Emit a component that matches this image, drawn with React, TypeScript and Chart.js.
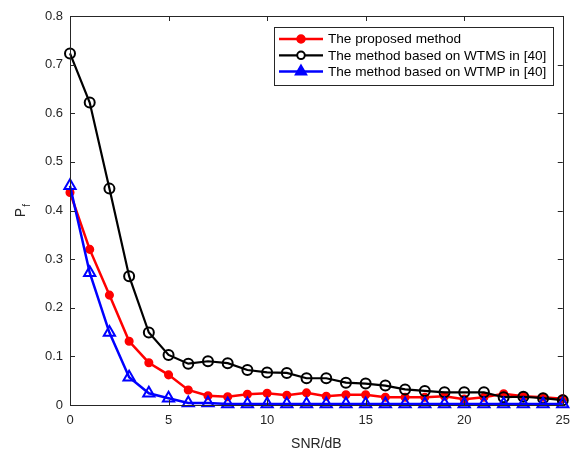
import React, { useEffect, useRef } from "react";
import { Chart, registerables } from "chart.js";

Chart.register(...registerables);

const snr = [0, 1, 2, 3, 4, 5, 6, 7, 8, 9, 10, 11, 12, 13, 14, 15, 16, 17, 18, 19, 20, 21, 22, 23, 24, 25];
const proposed = [0.437, 0.320, 0.226, 0.131, 0.087, 0.062, 0.031, 0.019, 0.017, 0.022, 0.024, 0.020, 0.025, 0.018, 0.021, 0.021, 0.016, 0.016, 0.016, 0.018, 0.012, 0.016, 0.023, 0.018, 0.016, 0.013];
const wtms = [0.723, 0.622, 0.445, 0.265, 0.149, 0.103, 0.085, 0.090, 0.086, 0.072, 0.067, 0.066, 0.055, 0.055, 0.046, 0.044, 0.040, 0.032, 0.029, 0.026, 0.026, 0.026, 0.016, 0.017, 0.014, 0.010];
const wtmp = [0.451, 0.272, 0.149, 0.057, 0.024, 0.014, 0.004, 0.004, 0.002, 0.002, 0.002, 0.002, 0.002, 0.002, 0.002, 0.002, 0.002, 0.002, 0.002, 0.002, 0.002, 0.002, 0.002, 0.002, 0.002, 0.002];
const xTicks = [0, 5, 10, 15, 20, 25];
const yTicks = [0, 0.1, 0.2, 0.3, 0.4, 0.5, 0.6, 0.7, 0.8];
const labels = [
  "The proposed method",
  "The method based on WTMS in [40]",
  "The method based on WTMP in [40]",
];

const AXIS = "#262626";
const FONT = "'Liberation Sans', Arial, sans-serif";

function marker(ctx: CanvasRenderingContext2D, style: string, x: number, y: number, r: number, fill: string, stroke: string, bw: number) {
  ctx.beginPath();
  if (style === "triangle") {
    for (let k = 0; k < 3; k++) {
      const ang = (k * 2 * Math.PI) / 3;
      const px = x + Math.sin(ang) * r;
      const py = y - Math.cos(ang) * r;
      if (k === 0) ctx.moveTo(px, py); else ctx.lineTo(px, py);
    }
    ctx.closePath();
  } else {
    ctx.arc(x, y, r, 0, Math.PI * 2);
  }
  ctx.fillStyle = fill;
  ctx.fill();
  ctx.lineWidth = bw;
  ctx.strokeStyle = stroke;
  ctx.stroke();
}

const legendMarkers = [
  { r: 4, fill: "#ff0000", bw: 1.5 },
  { r: 3.8, fill: "#ffffff", bw: 2 },
  { r: 6.5, fill: "#0000ff", bw: 1.5 },
];

const boxPlugin = {
  id: "matlabBox",
  afterDatasetsDraw(chart: any) {
    const { ctx, chartArea: a, scales } = chart;
    ctx.save();
    ctx.strokeStyle = AXIS;
    ctx.lineWidth = 1;
    ctx.strokeRect(Math.round(a.left) + 0.5, Math.round(a.top) + 0.5, Math.round(a.right - a.left), Math.round(a.bottom - a.top));
    const L = 5;
    ctx.beginPath();
    for (const v of xTicks) {
      const x = Math.round(scales.x.getPixelForValue(v)) + 0.5;
      ctx.moveTo(x, a.bottom); ctx.lineTo(x, a.bottom - L);
      ctx.moveTo(x, a.top); ctx.lineTo(x, a.top + L);
    }
    for (const v of yTicks) {
      const y = Math.round(scales.y.getPixelForValue(v)) + 0.5;
      ctx.moveTo(a.left, y); ctx.lineTo(a.left + L, y);
      ctx.moveTo(a.right, y); ctx.lineTo(a.right - L, y);
    }
    ctx.stroke();

    // y-axis title P_f
    ctx.fillStyle = AXIS;
    ctx.translate(25, (a.top + a.bottom) / 2);
    ctx.rotate(-Math.PI / 2);
    ctx.font = `14px ${FONT}`;
    ctx.textBaseline = "alphabetic";
    ctx.textAlign = "left";
    const pw = ctx.measureText("P").width;
    ctx.fillText("P", -(pw + 4) / 2, 0);
    ctx.font = `10px ${FONT}`;
    ctx.fillText("f", -(pw + 4) / 2 + pw + 1, 5);
    ctx.restore();

    // legend
    ctx.save();
    const lx = 274, ly = 27, lw = 279, lh = 58;
    ctx.fillStyle = "#ffffff";
    ctx.fillRect(lx, ly, lw, lh);
    ctx.strokeStyle = AXIS;
    ctx.lineWidth = 1;
    ctx.strokeRect(lx + 0.5, ly + 0.5, lw, lh);
    ctx.font = `13.6px ${FONT}`;
    ctx.textBaseline = "middle";
    ctx.textAlign = "left";
    chart.data.datasets.forEach((ds: any, i: number) => {
      const y = ly + 12 + i * 16.3;
      ctx.strokeStyle = ds.borderColor;
      ctx.lineWidth = ds.borderWidth;
      ctx.beginPath();
      ctx.moveTo(lx + 5, y);
      ctx.lineTo(lx + 49, y);
      ctx.stroke();
      const m = legendMarkers[i];
      marker(ctx, ds.pointStyle, lx + 27, y, m.r, m.fill, ds.borderColor, m.bw);
      ctx.fillStyle = "#000000";
      ctx.fillText(ds.label, lx + 54, y + 0.5);
    });
    ctx.restore();
  },
};

export default function App() {
  const ref = useRef<HTMLCanvasElement>(null);
  useEffect(() => {
    document.body.style.margin = "0";
    const mk = (label: string, data: number[], color: string, style: string, r: number, fill: string, bw: number, pbw: number, order: number) => ({
      label,
      data,
      order,
      borderColor: color,
      backgroundColor: fill,
      pointBackgroundColor: fill,
      pointBorderColor: color,
      borderWidth: bw,
      pointBorderWidth: pbw,
      pointStyle: style,
      pointRadius: r,
      tension: 0,
      clip: false,
    });
    const chart = new Chart(ref.current!, {
      type: "line",
      data: {
        labels: snr,
        datasets: [
          mk(labels[0], proposed, "#ff0000", "circle", 3.8, "#ff0000", 2.5, 1.5, 3),
          mk(labels[1], wtms, "#000000", "circle", 5, "rgba(0,0,0,0)", 2.2, 2, 2),
          mk(labels[2], wtmp, "#0000ff", "triangle", 6.5, "rgba(0,0,0,0)", 2.5, 2, 1),
        ] as any,
      },
      options: {
        animation: false,
        responsive: false,
        maintainAspectRatio: false,
        layout: { padding: { left: 0, right: 13, top: 16, bottom: 0 } },
        plugins: { legend: { display: false }, tooltip: { enabled: false } },
        scales: {
          x: {
            type: "linear",
            min: 0,
            max: 25,
            afterFit: (s: any) => { s.height = 48; },
            afterBuildTicks: (s: any) => { s.ticks = xTicks.map((v) => ({ value: v })); },
            grid: { display: false, drawTicks: false },
            border: { display: false },
            ticks: { color: AXIS, font: { family: FONT, size: 13 }, padding: 8 },
            title: { display: true, text: "SNR/dB", color: AXIS, font: { family: FONT, size: 14 }, padding: { top: 2, bottom: 0 } },
          },
          y: {
            min: 0,
            max: 0.8,
            afterFit: (s: any) => { s.width = 70; },
            afterBuildTicks: (s: any) => { s.ticks = yTicks.map((v) => ({ value: v })); },
            grid: { display: false, drawTicks: false },
            border: { display: false },
            ticks: { color: AXIS, font: { family: FONT, size: 13 }, padding: 7, callback: (v: any) => String(Math.round(Number(v) * 10) / 10) },
          },
        },
      },
      plugins: [boxPlugin],
    });
    return () => chart.destroy();
  }, []);
  return (
    <div style={{ position: "absolute", left: 0, top: 0, width: 578, height: 453, background: "#fff" }}>
      <canvas ref={ref} width={578} height={453} style={{ width: 578, height: 453 }} />
    </div>
  );
}
